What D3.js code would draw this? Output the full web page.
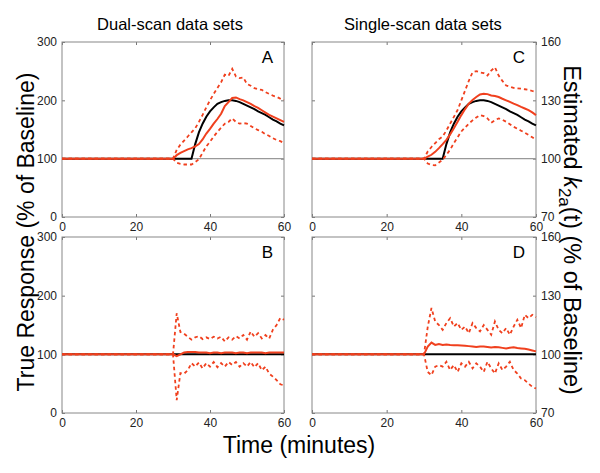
<!DOCTYPE html>
<html>
<head>
<meta charset="utf-8">
<script src="https://cdn.jsdelivr.net/npm/d3@7"></script>
<style>
  body { margin: 0; background: #fff; }
  svg text { font-family: Arial, "Liberation Sans", Helvetica, sans-serif; }
</style>
</head>
<body>
<script>
// time grid (minutes) shared by every series
const minutes = [0, 30, 31, 32, 33, 34, 35, 36, 37, 38, 39, 40, 41, 42, 43, 44, 45,
  46, 47, 48, 49, 50, 51, 52, 53, 54, 55, 56, 57, 58, 59, 60];

const xTicks = [0, 20, 40, 60];
const leftTicks = [0, 100, 200, 300];
const rightTicks = [70, 100, 130, 160];

// A: dual-scan, activation
const trueA = [100, 100, 100, 100, 100, 100, 100, 125, 145, 160, 172, 181, 188, 194, 197, 199, 200,
  200, 199, 197, 194, 191, 188, 185, 181, 178, 175, 171, 167, 164, 160, 157];
const meanA = [100, 100, 106, 110, 113, 116, 118, 121, 125, 133, 143, 151, 160, 168, 177, 190, 197,
  204, 205, 202, 200, 197, 194, 190, 187, 183, 179, 175, 172, 169, 166, 163];
const upperA = [100, 100, 115, 124, 131, 138, 145, 152, 163, 175, 188, 200, 211, 221, 231, 244, 242,
  254, 241, 238, 239, 228, 225, 221, 219, 218, 214, 211, 208, 206, 203, 201];
const lowerA = [100, 100, 93, 91, 90, 90, 90, 94, 99, 110, 121, 129, 138, 146, 153, 160, 163,
  169, 163, 160, 161, 160, 156, 152, 149, 146, 142, 139, 135, 132, 130, 127];

// B: dual-scan, no activation
const trueB = minutes.map(() => 100);
const meanB = [100, 100, 97, 100, 103, 104, 104, 104, 103, 103, 103, 102, 103, 103, 102, 103, 103,
  103, 102, 103, 103, 102, 103, 103, 103, 103, 102, 103, 103, 103, 103, 103];
const upperB = [100, 100, 170, 138, 135, 130, 125, 129, 131, 126, 129, 126, 130, 127, 130, 122, 129,
  125, 131, 127, 133, 125, 139, 130, 136, 127, 133, 127, 142, 150, 162, 159];
const lowerB = [100, 100, 22, 68, 67, 73, 85, 79, 86, 76, 85, 79, 87, 78, 85, 79, 87,
  82, 87, 79, 85, 79, 87, 78, 85, 73, 79, 67, 62, 56, 49, 47];

// C: single-scan, activation (right axis units)
const trueC = [100, 100, 100, 100, 100, 100, 100, 107.5, 113.5, 118, 121.6, 124.3, 126.4, 128.2, 129.1, 129.7, 130,
  130, 129.7, 129.1, 128.2, 127.3, 126.4, 125.5, 124.3, 123.4, 122.5, 121.3, 120.1, 119.2, 118, 117.1];
const meanC = [100, 100, 101, 102, 103.5, 105.4, 107.5, 109.7, 112.5, 115.6, 119, 122.4, 125.5, 128.3, 130.2, 131.7, 133,
  133.4, 133.2, 132.5, 132.2, 131.7, 130.8, 130, 129.2, 128.3, 127.5, 126.6, 125.8, 125, 123.8, 122.4];
const upperC = [100, 100, 103.7, 106, 108, 110, 111.4, 114.5, 118, 121.5, 125, 130, 135, 140, 144.4, 145, 144.4,
  144, 142.7, 145.3, 147, 142.7, 140, 137.6, 137, 136.4, 136.2, 136, 135.7, 135.4, 134.8, 134.2];
const lowerC = [100, 100, 97.5, 96.8, 96.6, 98, 99.5, 102, 104.6, 108, 111, 114, 116, 118, 119.7, 121.2, 122.4,
  121.9, 120.7, 118.5, 119.8, 120.7, 120, 119, 117.7, 116.4, 115.4, 114.4, 113.3, 112.2, 111, 109.7];

// D: single-scan, no activation
const trueD = minutes.map(() => 100);
const meanD = [100, 100, 104, 106, 104.8, 105.3, 104.8, 105, 104.8, 104.7, 104.6, 104.5, 104.4, 104.2, 104, 103.7, 104,
  104, 103.8, 103.5, 103.7, 103.6, 103.3, 103, 103.4, 103.6, 103.2, 103, 102.8, 102.5, 102, 101.5];
const upperD = [100, 100, 114, 123.7, 116.8, 115, 112.5, 116, 118.5, 114.2, 116, 112.5, 114.2, 110.8, 116, 113.4, 111.7,
  115, 112.5, 110, 116.8, 112.5, 110.8, 113.4, 110, 114.2, 117.7, 113.4, 120.2, 118.5, 120.2, 119];
const lowerD = [100, 100, 91, 89.4, 93.7, 94.5, 93.7, 96.2, 92, 94.5, 91, 95.4, 93.7, 96.2, 92.8, 95.4, 93.7,
  91, 96.2, 92.8, 90.2, 95.4, 92, 93.7, 96.2, 92, 90.2, 87.6, 86.8, 85, 83.4, 82.5];

const red = "#f0401e";
const W = 600, H = 473;

const svg = d3.select("body").append("svg").attr("width", W).attr("height", H);

const panels = [
  { id: "A", x0: 62, x1: 284, y0: 42, y1: 217, dom: [0, 300], ticks: leftTicks, side: "left", gray: true,
    t: trueA, m: meanA, u: upperA, l: lowerA },
  { id: "B", x0: 62, x1: 284, y0: 237, y1: 413, dom: [0, 300], ticks: leftTicks, side: "left", gray: false,
    t: trueB, m: meanB, u: upperB, l: lowerB },
  { id: "C", x0: 312, x1: 536, y0: 42, y1: 217, dom: [70, 160], ticks: rightTicks, side: "right", gray: true,
    t: trueC, m: meanC, u: upperC, l: lowerC },
  { id: "D", x0: 312, x1: 536, y0: 237, y1: 413, dom: [70, 160], ticks: rightTicks, side: "right", gray: false,
    t: trueD, m: meanD, u: upperD, l: lowerD }
];

panels.forEach(p => {
  const x = d3.scaleLinear().domain([0, 60]).range([p.x0, p.x1]);
  const y = d3.scaleLinear().domain(p.dom).range([p.y1, p.y0]);
  const g = svg.append("g");

  const styleAxis = sel => {
    sel.select(".domain").remove();
    sel.selectAll(".tick line").attr("stroke", "#777");
    sel.selectAll(".tick text").attr("fill", "#222").style("font-size", "12px");
  };

  // bottom / top
  g.append("g").attr("transform", `translate(0,${p.y1})`)
    .call(d3.axisBottom(x).tickValues(xTicks).tickSizeInner(-3).tickSizeOuter(0).tickPadding(5))
    .call(styleAxis);
  g.append("g").attr("transform", `translate(0,${p.y0})`)
    .call(d3.axisTop(x).tickValues(xTicks).tickSizeInner(-3).tickSizeOuter(0).tickFormat(""))
    .call(styleAxis);

  // left / right
  const labelled = p.side === "left" ? d3.axisLeft(y) : d3.axisRight(y);
  const blank = p.side === "left" ? d3.axisRight(y) : d3.axisLeft(y);
  g.append("g").attr("transform", `translate(${p.side === "left" ? p.x0 : p.x1},0)`)
    .call(labelled.tickValues(p.ticks).tickSizeInner(-3).tickSizeOuter(0).tickPadding(5))
    .call(styleAxis);
  g.append("g").attr("transform", `translate(${p.side === "left" ? p.x1 : p.x0},0)`)
    .call(blank.tickValues(p.ticks).tickSizeInner(-3).tickSizeOuter(0).tickFormat(""))
    .call(styleAxis);

  g.append("rect")
    .attr("x", p.x0).attr("y", p.y0)
    .attr("width", p.x1 - p.x0).attr("height", p.y1 - p.y0)
    .attr("fill", "none").attr("stroke", "#888").attr("stroke-width", 1);

  if (p.gray) {
    g.append("line")
      .attr("x1", x(0)).attr("x2", x(60)).attr("y1", y(100)).attr("y2", y(100))
      .attr("stroke", "#999").attr("stroke-width", 1.2);
  }

  const line = vals => d3.line().x((d, i) => x(minutes[i])).y(d => y(d))(vals);

  g.append("path").attr("d", line(p.t)).attr("fill", "none")
    .attr("stroke", "#000").attr("stroke-width", 2);
  g.append("path").attr("d", line(p.m)).attr("fill", "none")
    .attr("stroke", red).attr("stroke-width", 2);
  [p.u, p.l].forEach(v => {
    g.append("path").attr("d", line(v)).attr("fill", "none")
      .attr("stroke", red).attr("stroke-width", 1.8).attr("stroke-dasharray", "3.5,3");
  });

  g.append("text").attr("x", p.x1 - 11).attr("y", p.y0 + 21)
    .attr("text-anchor", "end").style("font-size", "17px").attr("fill", "#000").text(p.id);
});

svg.append("text").attr("x", 170).attr("y", 30).attr("text-anchor", "middle")
  .style("font-size", "16.5px").text("Dual-scan data sets");
svg.append("text").attr("x", 423).attr("y", 30).attr("text-anchor", "middle")
  .style("font-size", "16.5px").text("Single-scan data sets");

svg.append("text").attr("transform", "translate(34,232) rotate(-90)")
  .attr("text-anchor", "middle").style("font-size", "23px")
  .text("True Response (% of Baseline)");

const rl = svg.append("text").attr("transform", "translate(564,230) rotate(90)")
  .attr("text-anchor", "middle").style("font-size", "23.5px");
rl.append("tspan").text("Estimated ");
rl.append("tspan").style("font-style", "italic").text("k");
rl.append("tspan").attr("baseline-shift", "-30%").style("font-size", "17px").text("2a");
rl.append("tspan").text("(t) (% of Baseline)");

svg.append("text").attr("x", 299).attr("y", 453).attr("text-anchor", "middle")
  .style("font-size", "23px").text("Time (minutes)");
</script>
</body>
</html>
